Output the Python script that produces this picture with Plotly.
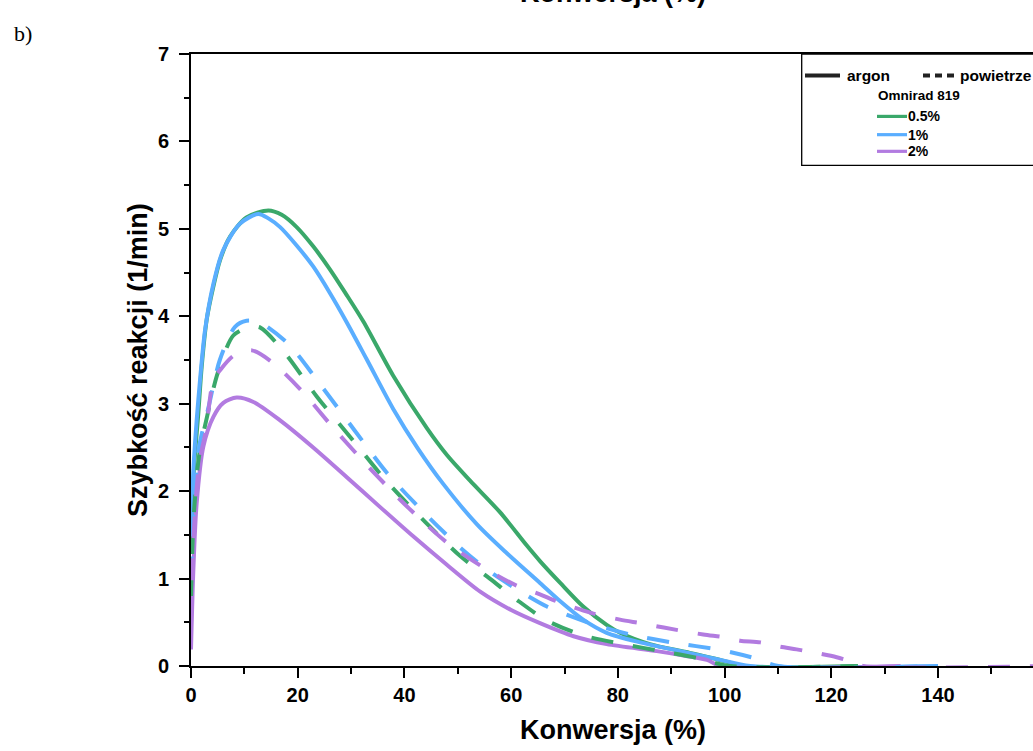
import plotly.graph_objects as go

# ---------------- data ----------------
x_g_ar = [0, 0.5, 1.37, 2.0, 2.94, 4.19, 5.43, 7.3, 10.4, 14.5, 17.0, 19.8, 22.9, 26.0, 29.0, 32.3, 37.9, 44.2, 48.0, 52.3, 57.9, 62.9, 65.4, 69.2, 73.5, 77.9, 80.4, 86.0, 93.5, 100.4, 103, 125]
y_g_ar = [1.3, 2.2, 2.89, 3.42, 3.96, 4.34, 4.64, 4.91, 5.13, 5.21, 5.16, 5.02, 4.80, 4.54, 4.26, 3.94, 3.32, 2.72, 2.41, 2.12, 1.76, 1.38, 1.20, 0.95, 0.68, 0.47, 0.38, 0.25, 0.15, 0.05, 0, 0]

x_b_ar = [0, 0.5, 1.06, 1.69, 2.63, 4.19, 6.06, 9.18, 12.6, 14.5, 16.7, 19.8, 22.9, 26.0, 29.2, 33.0, 37.9, 42.5, 47.3, 53.6, 59.2, 65.4, 69.2, 73.5, 77.9, 84.2, 91.7, 99.2, 104.8, 140]
y_b_ar = [1.4, 2.3, 2.81, 3.27, 3.84, 4.37, 4.76, 5.06, 5.17, 5.12, 5.02, 4.81, 4.57, 4.27, 3.93, 3.50, 2.94, 2.49, 2.08, 1.62, 1.29, 0.95, 0.74, 0.53, 0.38, 0.27, 0.17, 0.07, 0, 0]

x_p_ar = [0, 0.44, 1.06, 2.31, 4.19, 6.06, 8.56, 11.7, 16.7, 22.9, 29.2, 35.4, 41.7, 47.9, 54.2, 60, 65.4, 71.7, 77.9, 87.3, 92.3, 96.7, 99.2, 133]
y_p_ar = [0.19, 1.10, 1.86, 2.51, 2.85, 3.01, 3.07, 3.02, 2.81, 2.50, 2.16, 1.82, 1.48, 1.16, 0.85, 0.64, 0.49, 0.34, 0.25, 0.17, 0.12, 0.07, 0, 0]

x_g_pw = [0, 0.5, 1.5, 3, 5, 7.93, 11.06, 13, 17.6, 23.6, 30.1, 36.4, 43.2, 50.4, 56, 61, 66.7, 73.5, 81.0, 88, 95, 101, 125]
y_g_pw = [0.8, 1.7, 2.4, 2.85, 3.35, 3.78, 3.88, 3.87, 3.58, 3.08, 2.60, 2.13, 1.69, 1.26, 1.0, 0.76, 0.52, 0.35, 0.25, 0.17, 0.09, 0, 0]

x_b_pw = [0, 0.5, 1.5, 3.25, 5.4, 8.25, 10.4, 12.9, 18.3, 24.6, 30.6, 36.7, 43.6, 50.9, 56, 61, 66.7, 74.8, 82.3, 90.1, 99.5, 105, 110.1, 140]
y_b_pw = [1.0, 1.8, 2.5, 2.95, 3.5, 3.88, 3.95, 3.93, 3.68, 3.19, 2.70, 2.21, 1.76, 1.33, 1.08, 0.88, 0.68, 0.49, 0.36, 0.27, 0.18, 0.10, 0, 0]

x_p_pw = [0, 0.5, 1.5, 2.8, 4.2, 5.4, 8, 11.4, 15.1, 20.4, 27, 33.7, 40.9, 48.4, 55, 61, 65.4, 68.5, 74.8, 80.4, 84.2, 88.6, 96.0, 99.8, 102.9, 106.7, 110.4, 113.5, 117.9, 121, 124.6, 126, 160]
y_p_pw = [0.5, 1.5, 2.3, 2.7, 3.27, 3.38, 3.55, 3.61, 3.48, 3.17, 2.70, 2.25, 1.80, 1.39, 1.12, 0.92, 0.82, 0.74, 0.61, 0.53, 0.49, 0.44, 0.36, 0.33, 0.29, 0.27, 0.22, 0.19, 0.14, 0.10, 0.035, 0, 0]

series_labels = ["0.5%", "1%", "2%"]
atm_labels = ["argon", "powietrze"]
legend_title = "Omnirad 819"
x_title = "Konwersja (%)"
y_title = "Szybkość reakcji (1/min)"

GREEN = "#3AA86A"
BLUE = "#5AAEFF"
PURPLE = "#B27BE0"
FONT = "Liberation Sans, Arial, sans-serif"

# ---------------- geometry ----------------
W, H = 1033, 751
L, R, T, B = 191, 0, 53.5, 84.5
PW = W - L - R
PH = H - T - B


def px(x):
    return (x - L) / PW


def py(y):
    return (H - B - y) / PH


fig = go.Figure()
DASH = "22px,20px"
traces = [
    (x_g_ar, y_g_ar, GREEN, "solid"),
    (x_b_ar, y_b_ar, BLUE, "solid"),
    (x_p_ar, y_p_ar, PURPLE, "solid"),
    (x_g_pw, y_g_pw, GREEN, DASH),
    (x_b_pw, y_b_pw, BLUE, DASH),
    (x_p_pw, y_p_pw, PURPLE, DASH),
]
for xs, ys, c, d in traces:
    fig.add_trace(go.Scatter(x=xs, y=ys, mode="lines",
                             line=dict(color=c, width=4, dash=d, shape="spline", smoothing=0.8),
                             showlegend=False, hoverinfo="skip"))

axis_common = dict(
    showline=True, linecolor="black", linewidth=1.6,
    ticks="outside", ticklen=10, tickwidth=1.6, tickcolor="black",
    tickfont=dict(family=FONT, size=20, color="black", weight="bold"),
    showgrid=False, zeroline=False,
)

fig.update_xaxes(range=[0, 157.8], dtick=20, tick0=0, mirror=True, ticklabelstandoff=0,
                 minor=dict(dtick=10, ticks="outside", ticklen=6, tickwidth=1.5, tickcolor="black"),
                 **axis_common)
fig.update_yaxes(range=[0, 7], dtick=1, tick0=0, mirror=False, ticklabelstandoff=6,
                 minor=dict(dtick=0.5, ticks="outside", ticklen=5, tickwidth=1.5, tickcolor="black"),
                 **axis_common)

shapes = []
ann = []
# legend box
shapes.append(dict(type="rect", xref="paper", yref="paper",
                   x0=px(801.7), x1=px(1045), y0=py(165), y1=py(53.5),
                   line=dict(color="black", width=1.3), fillcolor="white", layer="above"))
# argon (solid) / powietrze (dashed)
shapes.append(dict(type="line", xref="paper", yref="paper", x0=px(805), x1=px(840), y0=py(75), y1=py(75),
                   line=dict(color="#222", width=4), layer="above"))
shapes.append(dict(type="line", xref="paper", yref="paper", x0=px(923), x1=px(956), y0=py(75), y1=py(75),
                   line=dict(color="#222", width=4, dash="7px,5px"), layer="above"))
ann.append(dict(x=px(845), y=py(75), xref="paper", yref="paper", text=atm_labels[0], showarrow=False,
                xanchor="left", yanchor="middle", font=dict(family=FONT, size=15.5, color="black", weight="bold")))
ann.append(dict(x=px(958), y=py(75), xref="paper", yref="paper", text=atm_labels[1], showarrow=False,
                xanchor="left", yanchor="middle", font=dict(family=FONT, size=15.5, color="black", weight="bold")))
ann.append(dict(x=px(875.5), y=py(95), xref="paper", yref="paper", text=legend_title, showarrow=False,
                xanchor="left", yanchor="middle", font=dict(family=FONT, size=13.5, color="black", weight="bold")))
for lab, c, yy in zip(series_labels, [GREEN, BLUE, PURPLE], [116, 134.3, 151]):
    shapes.append(dict(type="line", xref="paper", yref="paper", x0=px(877), x1=px(907), y0=py(yy), y1=py(yy),
                       line=dict(color=c, width=3.2), layer="above"))
    ann.append(dict(x=px(906), y=py(yy), xref="paper", yref="paper", text=lab, showarrow=False,
                    xanchor="left", yanchor="middle", font=dict(family=FONT, size=14, color="black", weight="bold")))

# axis titles
ann.append(dict(x=px(613), y=py(731), xref="paper", yref="paper", text=x_title, showarrow=False,
                xanchor="center", yanchor="middle", font=dict(family=FONT, size=27, color="black", weight="bold")))
ann.append(dict(x=px(138), y=py(360), xref="paper", yref="paper", text=y_title, showarrow=False, textangle=-90,
                xanchor="center", yanchor="middle", font=dict(family=FONT, size=27, color="black", weight="bold")))

# panel label and cut-off title of the panel above
ann.append(dict(x=px(12), y=py(33), xref="paper", yref="paper", text="b)", showarrow=False,
                xanchor="left", yanchor="middle", font=dict(family="Liberation Serif, Times New Roman, serif", size=22, color="black")))
ann.append(dict(x=px(613), y=py(-8), xref="paper", yref="paper", text=x_title, showarrow=False,
                xanchor="center", yanchor="middle", font=dict(family=FONT, size=27, color="black", weight="bold")))

fig.update_layout(width=W, height=H, margin=dict(l=L, r=R, t=T, b=B, pad=0),
                  paper_bgcolor="white", plot_bgcolor="white",
                  shapes=shapes, annotations=ann, showlegend=False)

fig.write_html("out.html")
